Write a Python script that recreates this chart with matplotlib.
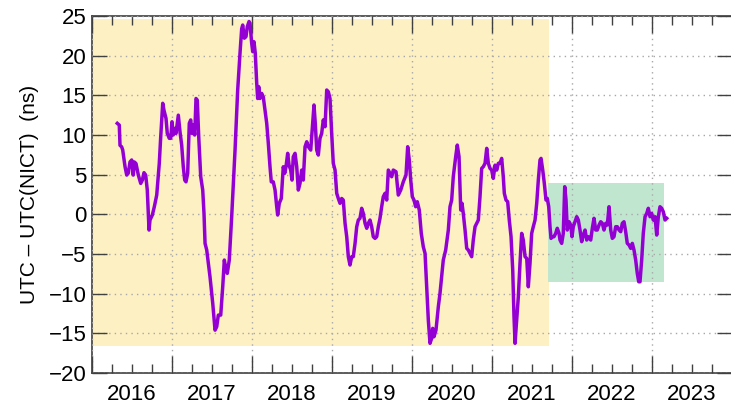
import matplotlib
matplotlib.use("Agg")
import matplotlib.pyplot as plt
from matplotlib.patches import Rectangle
from matplotlib.ticker import MultipleLocator

plt.rcParams['font.family'] = ['Liberation Sans', 'DejaVu Sans']

# decimal-year dates and UTC - UTC(NICT) values (ns)
dates = [
    2016.316, 2016.341, 2016.350, 2016.371, 2016.384, 2016.413, 2016.434, 2016.454, 2016.475, 2016.496,
    2016.516, 2016.529, 2016.550, 2016.579, 2016.609, 2016.629, 2016.650, 2016.671, 2016.691, 2016.713,
    2016.725, 2016.754, 2016.779, 2016.809, 2016.841, 2016.859, 2016.884, 2016.900, 2016.925, 2016.941,
    2016.966, 2016.984, 2017.000, 2017.016, 2017.038, 2017.050, 2017.079, 2017.100, 2017.121, 2017.141,
    2017.159, 2017.175, 2017.196, 2017.216, 2017.234, 2017.250, 2017.266, 2017.284, 2017.300, 2017.316,
    2017.334, 2017.359, 2017.384, 2017.400, 2017.413, 2017.434, 2017.475, 2017.509, 2017.538, 2017.559,
    2017.579, 2017.609, 2017.634, 2017.654, 2017.675, 2017.691, 2017.716, 2017.746, 2017.788, 2017.821,
    2017.850, 2017.871, 2017.884, 2017.904, 2017.925, 2017.941, 2017.963, 2017.975, 2017.996, 2018.009,
    2018.025, 2018.041, 2018.059, 2018.071, 2018.084, 2018.100, 2018.121, 2018.141, 2018.163, 2018.184,
    2018.204, 2018.225, 2018.241, 2018.266, 2018.288, 2018.309, 2018.321, 2018.341, 2018.366, 2018.391,
    2018.409, 2018.425, 2018.446, 2018.463, 2018.484, 2018.500, 2018.516, 2018.538, 2018.559, 2018.579,
    2018.600, 2018.621, 2018.641, 2018.663, 2018.684, 2018.704, 2018.734, 2018.759, 2018.775, 2018.791,
    2018.809, 2018.829, 2018.850, 2018.871, 2018.891, 2018.913, 2018.934, 2018.954, 2018.975, 2018.996,
    2019.016, 2019.038, 2019.059, 2019.079, 2019.100, 2019.121, 2019.141, 2019.163, 2019.184, 2019.204,
    2019.225, 2019.246, 2019.266, 2019.288, 2019.309, 2019.329, 2019.350, 2019.371, 2019.391, 2019.413,
    2019.434, 2019.454, 2019.475, 2019.496, 2019.516, 2019.538, 2019.559, 2019.579, 2019.600, 2019.621,
    2019.641, 2019.663, 2019.684, 2019.704, 2019.725, 2019.746, 2019.766, 2019.800, 2019.829, 2019.859,
    2019.891, 2019.925, 2019.946, 2019.966, 2019.984, 2020.004, 2020.025, 2020.046, 2020.066, 2020.091,
    2020.116, 2020.141, 2020.163, 2020.184, 2020.204, 2020.225, 2020.246, 2020.259, 2020.275, 2020.300,
    2020.329, 2020.350, 2020.371, 2020.391, 2020.421, 2020.454, 2020.475, 2020.496, 2020.516, 2020.546,
    2020.566, 2020.588, 2020.609, 2020.625, 2020.641, 2020.663, 2020.684, 2020.704, 2020.725, 2020.746,
    2020.766, 2020.788, 2020.809, 2020.829, 2020.850, 2020.871, 2020.891, 2020.913, 2020.934, 2020.954,
    2020.975, 2020.996, 2021.016, 2021.038, 2021.059, 2021.079, 2021.100, 2021.121, 2021.141, 2021.154,
    2021.175, 2021.196, 2021.216, 2021.238, 2021.259, 2021.275, 2021.288, 2021.309, 2021.329, 2021.350,
    2021.371, 2021.391, 2021.413, 2021.434, 2021.454, 2021.475, 2021.496, 2021.516, 2021.538, 2021.559,
    2021.579, 2021.600, 2021.613, 2021.634, 2021.654, 2021.675, 2021.691, 2021.709, 2021.725, 2021.738,
    2021.754, 2021.775, 2021.796, 2021.816, 2021.838, 2021.850, 2021.871, 2021.891, 2021.909, 2021.925,
    2021.941, 2021.963, 2021.984, 2022.000, 2022.016, 2022.038, 2022.059, 2022.079, 2022.100, 2022.121,
    2022.141, 2022.163, 2022.184, 2022.204, 2022.234, 2022.254, 2022.275, 2022.296, 2022.316, 2022.338,
    2022.359, 2022.379, 2022.400, 2022.421, 2022.441, 2022.463, 2022.484, 2022.504, 2022.525, 2022.546,
    2022.566, 2022.588, 2022.609, 2022.629, 2022.650, 2022.671, 2022.691, 2022.713, 2022.734, 2022.754,
    2022.775, 2022.796, 2022.816, 2022.834, 2022.850, 2022.871, 2022.891, 2022.913, 2022.934, 2022.954,
    2022.975, 2022.996, 2023.016, 2023.038, 2023.059, 2023.079, 2023.100, 2023.121, 2023.141, 2023.163,
    2023.184,
]
offset_ns = [
    11.47, 11.25, 8.70, 8.50, 8.10, 6.00, 4.95, 5.20, 6.60, 6.85,
    4.95, 6.60, 6.40, 4.95, 3.90, 4.30, 5.25, 4.95, 3.06, -1.98,
    -0.72, -0.09, 0.96, 2.43, 6.43, 9.78, 14.00, 13.10, 12.10, 10.20,
    9.58, 9.58, 11.67, 10.00, 10.84, 10.20, 12.50, 10.40, 8.73, 6.00,
    4.32, 4.10, 5.17, 11.47, 11.90, 10.20, 11.25, 10.00, 14.60, 14.40,
    9.78, 4.74, 3.06, 0.12, -3.66, -4.50, -7.87, -11.20, -14.60, -14.17,
    -12.70, -12.70, -9.13, -5.76, -7.00, -7.44, -5.76, -0.30, 8.10, 15.67,
    20.30, 23.40, 23.86, 22.20, 22.40, 23.65, 24.30, 24.10, 21.56, 20.50,
    21.76, 20.30, 16.50, 14.60, 16.10, 14.60, 15.25, 14.80, 13.15, 11.47,
    8.95, 6.00, 4.10, 4.10, 3.06, 0.96, -0.09, 1.39, 2.00, 6.00,
    5.17, 6.00, 7.69, 6.20, 5.58, 4.32, 7.26, 7.69, 6.00, 3.06,
    3.90, 5.58, 4.32, 8.52, 9.15, 8.52, 8.10, 11.47, 13.78, 11.47,
    8.10, 7.47, 9.58, 10.20, 11.90, 11.04, 15.67, 15.45, 14.60, 10.20,
    6.43, 5.58, 2.65, 2.00, 1.39, 2.00, 1.80, -1.13, -2.82, -5.34,
    -6.39, -5.34, -5.34, -3.66, -1.56, -0.72, -0.50, 0.76, 0.12, -1.13,
    -1.76, -1.13, -0.72, -1.56, -2.82, -3.03, -2.82, -1.56, -0.50, 0.96,
    2.22, 2.65, 1.80, 5.58, 5.17, 4.74, 5.58, 5.37, 2.43, 3.06,
    4.10, 4.95, 8.52, 6.85, 4.32, 2.22, 1.80, 0.96, 1.59, 0.54,
    -2.40, -4.08, -4.92, -9.13, -13.32, -16.26, -15.63, -14.37, -15.43, -14.58,
    -11.65, -9.96, -7.87, -5.76, -4.50, -1.98, 0.96, 1.80, 4.74, 7.26,
    8.73, 7.26, 0.54, 1.39, 0.12, -1.98, -4.29, -4.50, -4.92, -5.34,
    -3.24, -1.56, -1.13, -0.72, 2.22, 5.79, 6.00, 6.43, 8.32, 6.43,
    5.79, 5.58, 4.53, 6.20, 5.58, 6.43, 6.43, 7.05, 4.74, 2.65,
    1.80, 1.59, -0.72, -2.82, -7.00, -12.90, -16.26, -13.32, -10.38, -6.18,
    -2.40, -3.24, -5.34, -5.55, -9.13, -6.18, -2.40, -1.56, -0.72, 1.39,
    4.32, 6.85, 7.05, 5.58, 3.90, 1.80, 2.00, 0.96, -1.56, -3.03,
    -2.82, -2.82, -2.40, -1.76, -2.40, -3.24, -3.66, -2.40, 3.48, 1.80,
    -1.98, -0.93, -1.35, -2.82, -1.56, -0.93, -0.30, -0.72, -1.98, -3.45,
    -2.61, -1.98, -3.24, -2.82, -3.24, -1.76, -0.50, -1.98, -1.98, -1.35,
    -0.93, -1.13, -1.98, -1.13, -1.35, 0.96, -1.98, -3.03, -2.82, -1.56,
    -1.56, -1.98, -2.19, -1.13, -0.93, -2.19, -3.66, -3.87, -4.29, -3.66,
    -4.50, -5.76, -7.44, -8.50, -8.50, -5.76, -2.40, -0.30, 0.12, 0.76,
    -0.30, 0.12, -0.72, -0.30, -2.61, -0.30, 0.96, 0.76, 0.33, -0.72,
    -0.50,
]

years = [2016, 2017, 2018, 2019, 2020, 2021, 2022, 2023]
x_range = (2016.0, 2024.0)
y_range = (-20, 25)

# shaded periods: (x0, x1, y0, y1)
period_old = (2016.0, 2021.716, -16.65, 24.6)
period_new = (2021.700, 2023.155, -8.5, 3.9)

fig = plt.figure(figsize=(7.31, 4.05), dpi=100)
ax = fig.add_axes([92 / 731, 32 / 405, 640 / 731, 357 / 405])

ax.add_patch(Rectangle((period_old[0], period_old[2]), period_old[1] - period_old[0],
                       period_old[3] - period_old[2], facecolor='#fdf0c3', edgecolor='none', zorder=0.5))
ax.add_patch(Rectangle((period_new[0], period_new[2]), period_new[1] - period_new[0],
                       period_new[3] - period_new[2], facecolor='#c0e6d0', edgecolor='none', zorder=0.6))

ax.plot(dates, offset_ns, color='#9400d3', lw=2.5, zorder=3, solid_joinstyle='round')

ax.set_xlim(*x_range)
ax.set_ylim(*y_range)

# x axis: year boundaries as major ticks, quarter minor ticks, labels at mid-year
ax.set_xticks([y for y in years] + [2024], labels=[''] * (len(years) + 1))
quarters = [y + q for y in years for q in (0.25, 0.5, 0.75)]
qlabels = [str(y) if q == 0.5 else '' for y in years for q in (0.25, 0.5, 0.75)]
ax.set_xticks(quarters, labels=qlabels, minor=True)
ax.yaxis.set_major_locator(MultipleLocator(5))

ax.tick_params(axis='x', which='major', direction='in', length=12, width=1.0,
               top=True, bottom=True, color='#404040')
ax.tick_params(axis='x', which='minor', direction='in', length=6.5, width=1.0,
               top=True, bottom=True, color='#404040', labelsize=16, pad=8)
ax.tick_params(axis='y', which='major', direction='in', length=11, width=1.0,
               left=True, right=True, color='#404040', labelsize=16, pad=4)

ax.grid(True, which='major', axis='both', color='#a8a8a8', linestyle=(0, (1, 3)), lw=1.0, zorder=1)
ax.set_axisbelow(False)
for sp in ax.spines.values():
    sp.set_color('#404040')
    sp.set_linewidth(1.2)

ax.set_ylabel('UTC – UTC(NICT)  (ns)', fontsize=15, labelpad=7)

fig.savefig('out.png', dpi=100)
